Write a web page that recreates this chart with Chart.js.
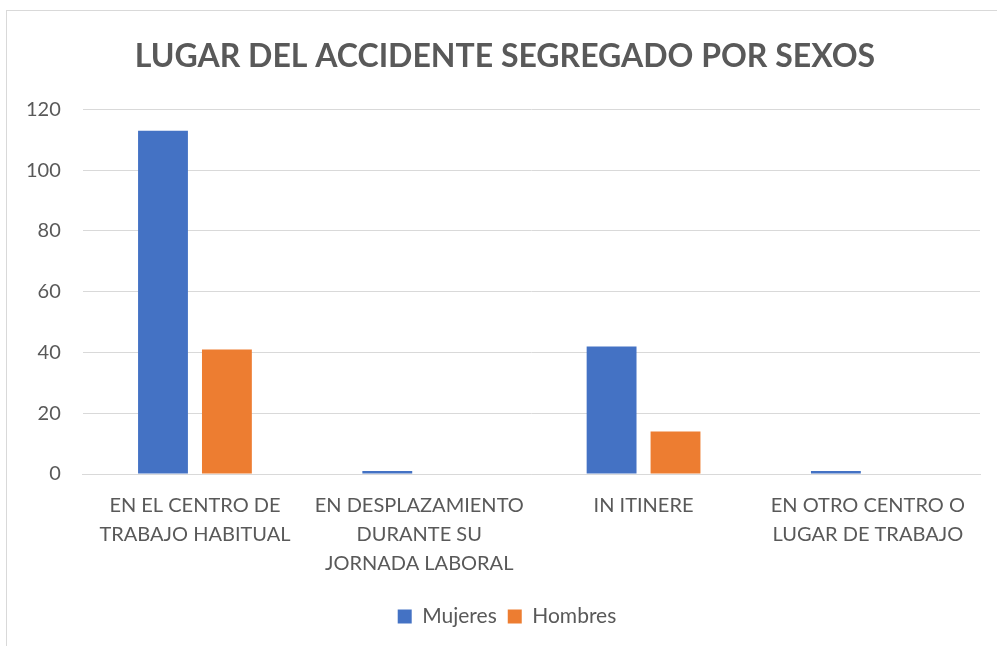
<!DOCTYPE html>
<html><head><meta charset="utf-8">
<script src="https://cdn.jsdelivr.net/npm/chart.js@4"></script>
<style>
html,body{margin:0;padding:0;background:#fff;width:997px;height:646px;overflow:hidden}
#frame{position:absolute;left:6px;top:10px;width:1000px;height:650px;border:1px solid #d9d9d9;box-sizing:border-box}
#wrap{position:absolute;left:0;top:0;width:997px;height:646px}
</style></head><body>
<div id="frame"></div>
<div id="wrap"><canvas id="c" width="997" height="646"></canvas></div>
<script>
const categories = [
  ["EN EL CENTRO DE","TRABAJO HABITUAL"],
  ["EN DESPLAZAMIENTO","DURANTE SU","JORNADA LABORAL"],
  ["IN ITINERE"],
  ["EN OTRO CENTRO O","LUGAR DE TRABAJO"]
];
const mujeres = [113, 1, 42, 1];
const hombres = [41, 0, 14, 0];
const chartTitle = "LUGAR DEL ACCIDENTE SEGREGADO POR SEXOS";
const FONT = "Lato, 'Open Sans', sans-serif";
// centre title and legend on the chart frame (which extends past the window)
const shiftBlocks = {
  id: 'shiftBlocks',
  afterLayout(chart) {
    const d = 13;
    if (chart.titleBlock) { chart.titleBlock.left += 2*d; }
    if (chart.legend) { chart.legend.left += 2*d + 4; }
  }
};
new Chart(document.getElementById('c'), {
  type: 'bar',
  data: {
    labels: categories,
    datasets: [
      {label: 'Mujeres', data: mujeres, backgroundColor: '#4472c4', categoryPercentage: 0.57, barPercentage: 0.78},
      {label: 'Hombres', data: hombres, backgroundColor: '#ed7d31', categoryPercentage: 0.57, barPercentage: 0.78}
    ]
  },
  options: {
    responsive: false,
    animation: false,
    layout: {padding: {left: 4, right: 17, top: 0, bottom: 9}},
    plugins: {
      title: {display: true, text: chartTitle, color: '#595959', font: {family: FONT, size: 32, weight: 'bold'}, padding: {top: 37, bottom: 34}},
      legend: {position: 'bottom', labels: {color: '#595959', font: {family: FONT, size: 21}, boxWidth: 14, boxHeight: 14, padding: 11}},
      tooltip: {enabled: false}
    },
    scales: {
      x: {
        grid: {display: false, drawTicks: false},
        border: {color: '#d9d9d9', width: 1},
        ticks: {color: '#595959', font: {family: FONT, size: 20, lineHeight: 1.45}, padding: 17, maxRotation: 0, autoSkip: false}
      },
      y: {
        min: 0, max: 120,
        grid: {color: '#d9d9d9', drawTicks: false},
        border: {display: false},
        ticks: {stepSize: 20, color: '#595959', font: {family: FONT, size: 20}, padding: 22}
      }
    }
  },
  plugins: [shiftBlocks]
});
</script>
</body></html>
